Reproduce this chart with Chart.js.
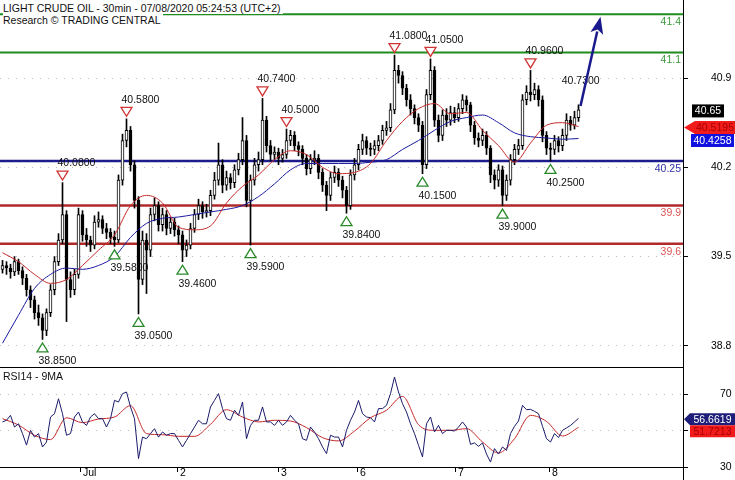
<!DOCTYPE html>
<html>
<head>
<meta charset="utf-8">
<script src="https://cdn.jsdelivr.net/npm/chart.js@4.4.0/dist/chart.umd.min.js"></script>
<style>
  body { margin: 0; background: #fff; width: 735px; height: 480px; position: relative; overflow: hidden; font-family: "Liberation Sans", Arial, sans-serif; }
  canvas { position: absolute; left: 0; }
  #price { top: 0; }
  #rsi { top: 367px; }
  .t { position: absolute; left: 3px; font-size: 10.5px; line-height: 12px; color: #111; background: #fff; white-space: nowrap; padding-right: 2px; }
</style>
</head>
<body>
<canvas id="price" width="735" height="368"></canvas>
<canvas id="rsi" width="735" height="113"></canvas>
<div class="t" style="top:2px">LIGHT CRUDE OIL - 30min - 07/08/2020 05:24:53 (UTC+2)</div>
<div class="t" style="top:14px">Research © TRADING CENTRAL</div>
<div class="t" style="top:370px;background:none">RSI14 - 9MA</div>
<script>
// one candle per hour
const dayTicks = [19.375, 43.625, 68.875, 88.625, 113.125, 136.625];
const dayLabels = [' Jul', ' 2', ' 3', ' 6', ' 7', ' 8'];
const priceTicks = [40.9, 40.2, 39.5, 38.8];
const rsiTicks = [70, 50, 30];

const opens = [
  39.40,39.43,39.41,39.38,39.46,39.39,39.33,39.24,39.16,39.06,
  39.02,38.92,39.06,39.24,39.46,39.63,39.83,39.32,39.24,39.36,
  39.83,39.67,39.63,39.59,39.77,39.79,39.72,39.69,39.65,39.63,
  40.10,40.41,40.49,40.22,39.94,39.32,39.63,39.55,39.83,39.90,
  39.75,39.83,39.72,39.77,39.71,39.67,39.55,39.59,39.72,39.83,
  39.90,39.85,39.86,39.98,40.10,40.22,40.06,40.12,40.08,40.18,
  40.26,40.41,39.94,40.10,40.22,40.26,40.57,40.37,40.30,40.32,
  40.27,40.30,40.41,40.45,40.37,40.34,40.27,40.19,40.26,40.27,
  40.16,40.06,39.98,40.12,40.16,40.10,40.02,39.90,40.14,40.22,
  40.34,40.41,40.35,40.34,40.37,40.41,40.49,40.51,40.65,40.96,
  40.92,40.82,40.73,40.66,40.59,40.53,40.22,40.77,40.96,40.57,
  40.45,40.61,40.57,40.63,40.59,40.66,40.73,40.69,40.53,40.43,
  40.41,40.45,40.35,40.14,40.10,40.18,39.98,40.10,40.26,40.34,
  40.37,40.73,40.79,40.77,40.81,40.73,40.45,40.35,40.34,40.41,
  40.37,40.45,40.57,40.53,40.59
];
const highs = [
  39.47,39.46,39.44,39.50,39.48,39.42,39.36,39.27,39.19,39.12,
  39.05,39.09,39.28,39.50,39.68,40.08,39.86,39.38,39.40,39.88,
  39.86,39.72,39.66,39.82,39.85,39.82,39.76,39.72,39.70,40.14,
  40.46,40.58,40.52,40.25,39.97,39.70,39.68,39.88,39.96,39.93,
  39.88,39.86,39.81,39.80,39.74,39.70,39.63,39.76,39.87,39.95,
  39.93,39.91,40.02,40.16,40.39,40.26,40.17,40.15,40.22,40.31,
  40.59,40.45,40.14,40.27,40.32,40.74,40.60,40.41,40.36,40.35,
  40.34,40.50,40.49,40.48,40.40,40.37,40.30,40.30,40.33,40.30,
  40.19,40.09,40.16,40.21,40.19,40.13,40.05,40.18,40.27,40.38,
  40.46,40.44,40.39,40.41,40.45,40.53,40.56,40.70,41.08,41.00,
  40.95,40.85,40.77,40.69,40.62,40.56,40.81,41.05,40.99,40.61,
  40.65,40.66,40.68,40.67,40.70,40.77,40.76,40.71,40.56,40.47,
  40.50,40.48,40.37,40.18,40.22,40.21,40.14,40.30,40.38,40.42,
  40.77,40.84,40.96,40.86,40.84,40.76,40.48,40.39,40.45,40.44,
  40.50,40.62,40.60,40.64,40.69
];
const lows = [
  39.37,39.36,39.33,39.35,39.36,39.28,39.19,39.10,39.01,38.96,
  38.85,38.88,39.03,39.20,39.43,39.60,38.99,39.18,39.20,39.33,
  39.62,39.58,39.54,39.56,39.73,39.68,39.64,39.60,39.58,39.61,
  40.06,40.36,40.17,39.88,39.05,39.28,39.21,39.50,39.78,39.70,
  39.70,39.67,39.68,39.66,39.60,39.46,39.50,39.56,39.69,39.79,
  39.80,39.81,39.82,39.95,40.06,40.00,40.02,40.03,40.04,40.14,
  40.22,39.89,39.59,40.06,40.17,40.22,40.32,40.25,40.26,40.22,
  40.24,40.27,40.37,40.33,40.29,40.22,40.14,40.15,40.22,40.11,
  40.01,39.86,39.94,40.08,40.05,39.96,39.84,39.87,40.10,40.18,
  40.30,40.30,40.29,40.30,40.33,40.38,40.45,40.48,40.62,40.86,
  40.77,40.68,40.61,40.54,40.48,40.15,40.19,40.73,40.52,40.40,
  40.41,40.52,40.53,40.55,40.56,40.62,40.64,40.48,40.38,40.36,
  40.37,40.30,40.08,40.03,40.05,39.90,39.94,40.06,40.22,40.30,
  40.34,40.69,40.72,40.73,40.68,40.40,40.30,40.25,40.30,40.32,
  40.33,40.41,40.49,40.50,40.56
];
const closes = [
  39.43,39.41,39.38,39.46,39.39,39.33,39.24,39.16,39.06,39.02,
  38.92,39.06,39.24,39.46,39.63,39.83,39.32,39.24,39.36,39.83,
  39.67,39.63,39.59,39.77,39.79,39.72,39.69,39.65,39.63,40.10,
  40.41,40.49,40.22,39.94,39.32,39.63,39.55,39.83,39.90,39.75,
  39.83,39.72,39.77,39.71,39.67,39.55,39.59,39.72,39.83,39.90,
  39.85,39.86,39.98,40.10,40.22,40.06,40.12,40.08,40.18,40.26,
  40.41,39.94,40.10,40.22,40.26,40.57,40.37,40.30,40.32,40.27,
  40.30,40.41,40.45,40.37,40.34,40.27,40.19,40.26,40.27,40.16,
  40.06,39.98,40.12,40.16,40.10,40.02,39.90,40.14,40.22,40.34,
  40.41,40.35,40.34,40.37,40.41,40.49,40.51,40.65,40.96,40.92,
  40.82,40.73,40.66,40.59,40.53,40.22,40.77,40.96,40.57,40.45,
  40.61,40.57,40.63,40.59,40.66,40.73,40.69,40.53,40.43,40.41,
  40.45,40.35,40.14,40.10,40.18,39.98,40.10,40.26,40.34,40.37,
  40.73,40.79,40.77,40.81,40.73,40.45,40.35,40.34,40.41,40.37,
  40.45,40.57,40.53,40.59,40.65
];

// moving averages, read every 4th bar
const maStep = 4;
const maFast = [39.53,39.46,39.36,39.29,39.32,39.43,39.55,39.67,39.90,39.98,39.92,39.73,39.71,39.74,39.92,40.05,40.14,40.26,40.33,40.30,40.20,40.15,40.16,40.23,40.41,40.56,40.66,40.70,40.62,40.63,40.49,40.37,40.24,40.39,40.53,40.55,40.5195];
const maSlow = [38.82,39.04,39.25,39.36,39.41,39.40,39.43,39.50,39.65,39.76,39.80,39.81,39.83,39.85,39.87,39.90,39.97,40.07,40.18,40.23,40.23,40.23,40.23,40.24,40.26,40.34,40.41,40.49,40.56,40.59,40.61,40.55,40.47,40.44,40.43,40.42,40.4258];

const rsi = [
  54.7,55.6,58.3,51.9,53.7,48.3,42.0,50.1,46.4,48.3,
  41.0,43.7,57.4,59.2,67.4,59.2,47.4,48.3,57.4,60.1,
  54.7,52.8,57.4,59.2,56.5,56.5,51.9,56.5,66.5,65.6,
  70.2,71.1,62.9,56.5,34.6,46.4,45.5,48.3,51.0,46.4,
  49.2,47.4,48.3,48.3,44.6,41.0,44.6,48.3,51.9,55.6,
  53.7,53.7,62.9,66.5,70.2,62.0,56.5,55.6,61.1,58.3,
  65.6,45.5,52.8,55.6,55.6,62.9,54.7,54.7,52.8,55.6,
  52.8,54.7,58.3,55.6,53.7,45.5,44.6,51.9,49.2,45.5,
  41.0,37.3,47.4,46.4,46.4,41.0,50.1,55.6,60.1,66.5,
  59.2,57.4,57.0,54.7,62.0,62.0,63.8,70.2,79.3,71.1,
  64.7,60.1,53.7,48.3,41.9,35.5,53.7,57.4,49.2,52.8,
  48.3,50.1,50.1,49.7,51.9,54.7,51.9,42.4,43.2,41.3,
  43.2,37.1,32.7,40.1,37.1,41.0,39.1,48.3,52.3,55.2,
  63.8,61.4,61.6,60.5,59.2,52.3,45.5,43.7,48.3,46.1,
  50.1,51.4,52.8,54.7,56.6619
];
const rsiMa = [56.5,53.0,47.4,45.0,57.0,54.3,56.3,57.4,63.6,48.3,47.7,46.8,46.8,53.4,61.4,57.4,54.7,55.6,55.2,51.6,46.1,44.3,49.7,57.0,61.1,68.7,53.2,50.1,50.1,51.0,43.7,37.7,45.5,58.3,55.0,47.0,51.7213];

const levels = [41.4, 41.1, 40.25, 39.9, 39.6];
const highIdx = [15, 31, 65, 71, 98, 107, 132];
const highVal = [40.08, 40.58, 40.74, 40.50, 41.08, 41.05, 40.96];
const lowIdx = [10, 28, 34, 45, 62, 86, 105, 125, 137];
const lowVal = [38.85, 39.58, 39.05, 39.46, 39.59, 39.84, 40.15, 39.90, 40.25];
const arrowX = [144.5, 149.5];
const arrowY = [40.68, 41.38];
const target = 40.73;

const FONT = '"Liberation Sans", Arial, sans-serif';
Chart.defaults.font.family = FONT;
Chart.defaults.font.size = 10.5;
Chart.defaults.color = '#000';

const levelColor = ['#1f8c1f', '#1f8c1f', '#1c1c8c', '#b02a2a', '#b02a2a'];
const levelText = ['#3a9a3a', '#3a9a3a', '#3333aa', '#dd5555', '#dd5555'];
const levelWidth = [2, 2, 2.5, 2.5, 2.5];

// no extra room around the axes: the plot fills its canvas
function noPad(s) {
  s.paddingTop = 0; s.paddingBottom = 0; s.paddingLeft = 0; s.paddingRight = 0;
}

function tri(ctx, cx, cy, down, color) {
  const w = 5.5, h = 4.5;
  ctx.beginPath();
  if (down) {
    ctx.moveTo(cx - w, cy - h); ctx.lineTo(cx + w, cy - h); ctx.lineTo(cx, cy + h);
  } else {
    ctx.moveTo(cx - w, cy + h); ctx.lineTo(cx + w, cy + h); ctx.lineTo(cx, cy - h);
  }
  ctx.closePath();
  ctx.fillStyle = '#fff';
  ctx.fill();
  ctx.strokeStyle = color;
  ctx.lineWidth = 1.3;
  ctx.stroke();
}

// value boxes on the right axis, pushed down so they do not overlap
function drawTags(ctx, scale, right, tags, h) {
  let prevBottom = -100;
  ctx.font = '10.5px ' + FONT;
  ctx.textAlign = 'center';
  ctx.textBaseline = 'middle';
  tags.forEach(t => {
    let yc = Math.max(scale.getPixelForValue(t.v) + 1, prevBottom + h / 2);
    prevBottom = yc + h / 2;
    const x0 = right + t.x0, x1 = right + t.x1;
    ctx.fillStyle = t.bg;
    ctx.beginPath();
    if (t.ptr) {
      ctx.moveTo(right + 1, yc);
      ctx.lineTo(x0, yc - h / 2);
    } else {
      ctx.moveTo(x0, yc - h / 2);
    }
    ctx.lineTo(x1, yc - h / 2);
    ctx.lineTo(x1, yc + h / 2);
    ctx.lineTo(x0, yc + h / 2);
    ctx.closePath();
    ctx.fill();
    ctx.fillStyle = t.fg;
    ctx.fillText(t.txt, (x0 + x1) / 2, yc + 0.5);
  });
}

const pricePlugin = {
  id: 'priceExtras',
  beforeDatasetsDraw(chart) {
    const {ctx, chartArea: a, scales: {y}} = chart;
    ctx.save();
    ctx.font = '10.5px ' + FONT;
    ctx.textAlign = 'right';
    ctx.textBaseline = 'middle';
    levels.forEach((v, k) => {
      const py = y.getPixelForValue(v);
      ctx.strokeStyle = levelColor[k];
      ctx.lineWidth = levelWidth[k];
      ctx.beginPath();
      ctx.moveTo(a.left, py);
      ctx.lineTo(a.right, py);
      ctx.stroke();
      ctx.fillStyle = levelText[k];
      ctx.fillText(String(v), a.right - 2, py + 8);
    });
    ctx.restore();
  },
  afterDatasetsDraw(chart) {
    const {ctx, chartArea: a, scales: {x, y}} = chart;
    ctx.save();
    ctx.font = '10.5px ' + FONT;
    ctx.textBaseline = 'middle';
    ctx.textAlign = 'left';
    highIdx.forEach((idx, k) => {
      const px = x.getPixelForValue(idx), py = y.getPixelForValue(highVal[k]);
      tri(ctx, px, py - 7, true, '#d03535');
      ctx.fillStyle = '#111';
      ctx.fillText(highVal[k].toFixed(4), px - 5, py - 19);
    });
    lowIdx.forEach((idx, k) => {
      const px = x.getPixelForValue(idx), py = y.getPixelForValue(lowVal[k]);
      tri(ctx, px, py + 8, false, '#2a8a2a');
      ctx.fillStyle = '#111';
      ctx.fillText(lowVal[k].toFixed(4), px - 4, py + 22);
    });
    // target text near the arrow
    ctx.fillStyle = '#111';
    ctx.fillText(target.toFixed(4), x.getPixelForValue(139.8), y.getPixelForValue(40.877));

    // arrow
    const x0 = x.getPixelForValue(arrowX[0]), y0 = y.getPixelForValue(arrowY[0]);
    const x1 = x.getPixelForValue(arrowX[1]), y1 = y.getPixelForValue(arrowY[1]);
    const ang = Math.atan2(y1 - y0, x1 - x0);
    const L = 17, W = 6.5;
    const bx = x1 - L * Math.cos(ang), by = y1 - L * Math.sin(ang);
    ctx.strokeStyle = '#1a1a8c';
    ctx.lineWidth = 2.5;
    ctx.beginPath();
    ctx.moveTo(x0, y0);
    ctx.lineTo(bx + 2 * Math.cos(ang), by + 2 * Math.sin(ang));
    ctx.stroke();
    ctx.fillStyle = '#1a1a8c';
    ctx.beginPath();
    ctx.moveTo(x1, y1);
    ctx.lineTo(bx - W * Math.sin(ang), by + W * Math.cos(ang));
    ctx.lineTo(bx + 4 * Math.cos(ang), by + 4 * Math.sin(ang));
    ctx.lineTo(bx + W * Math.sin(ang), by - W * Math.cos(ang));
    ctx.closePath();
    ctx.fill();

    // panel separator
    ctx.strokeStyle = '#000';
    ctx.lineWidth = 1;
    ctx.beginPath();
    ctx.moveTo(0, a.bottom - 0.5);
    ctx.lineTo(a.right, a.bottom - 0.5);
    ctx.stroke();
    ctx.restore();
  },
  afterDraw(chart) {
    const {ctx, chartArea: a, scales: {y}} = chart;
    ctx.save();
    drawTags(ctx, y, a.right, [
      {v: closes[closes.length - 1], txt: closes[closes.length - 1].toFixed(2), bg: '#000', fg: '#fff', x0: 9, x1: 41},
      {v: maFast[maFast.length - 1], txt: maFast[maFast.length - 1].toFixed(4), bg: '#f21b1b', fg: '#a80000', x0: 12, x1: 52, ptr: true},
      {v: maSlow[maSlow.length - 1], txt: maSlow[maSlow.length - 1].toFixed(4), bg: '#1212e0', fg: '#fff', x0: 8, x1: 51}
    ], 13);
    ctx.restore();
  }
};

const rsiPlugin = {
  id: 'rsiExtras',
  afterDraw(chart) {
    const {ctx, chartArea: a, scales: {y}} = chart;
    ctx.save();
    ctx.strokeStyle = '#000';
    ctx.lineWidth = 1;
    ctx.beginPath();
    ctx.moveTo(0, 0.5);
    ctx.lineTo(a.right, 0.5);
    ctx.moveTo(a.right + 0.5, a.bottom);
    ctx.lineTo(a.right + 0.5, chart.height);
    ctx.stroke();
    drawTags(ctx, y, a.right, [
      {v: rsi[rsi.length - 1], txt: rsi[rsi.length - 1].toFixed(4), bg: '#1e1e7a', fg: '#fff', x0: 7, x1: 52, ptr: true},
      {v: rsiMa[rsiMa.length - 1], txt: rsiMa[rsiMa.length - 1].toFixed(4), bg: '#f21b1b', fg: '#a80000', x0: 7, x1: 52}
    ], 12);
    ctx.restore();
  }
};

const xRange = {type: 'linear', min: -0.625, max: 170.125, offset: false};

new Chart(document.getElementById('price'), {
  type: 'bar',
  data: {
    datasets: [
      {
        type: 'line',
        data: maFast.map((v, k) => ({x: Math.min(k * maStep, closes.length - 1), y: v})),
        borderColor: '#c62828', borderWidth: 1, pointRadius: 0, cubicInterpolationMode: 'monotone'
      },
      {
        type: 'line',
        data: maSlow.map((v, k) => ({x: Math.min(k * maStep, closes.length - 1), y: v})),
        borderColor: '#1a1aa0', borderWidth: 1, pointRadius: 0, cubicInterpolationMode: 'monotone'
      },
      {
        data: closes.map((c, i) => ({x: i, y: [opens[i], c]})),
        backgroundColor: ctx => closes[ctx.dataIndex] >= opens[ctx.dataIndex] ? '#fff' : '#000',
        borderColor: '#000', borderWidth: 1, borderSkipped: false,
        barThickness: 3, grouped: false, minBarLength: 1
      },
      {
        data: highs.map((h, i) => ({x: i, y: [lows[i], h]})),
        backgroundColor: '#000', borderWidth: 0,
        barThickness: 1, grouped: false
      }
    ]
  },
  options: {
    responsive: false,
    animation: false,
    events: [],
    layout: {padding: 0},
    plugins: {legend: {display: false}, tooltip: {enabled: false}},
    scales: {
      x: Object.assign({display: false}, xRange),
      y: {
        position: 'right',
        min: 38.626,
        max: 41.512,
        afterBuildTicks: s => { s.ticks = priceTicks.map(v => ({value: v})); },
        afterFit: s => { s.width = 52; noPad(s); },
        ticks: {padding: 23, color: '#000', callback: v => v.toFixed(1)},
        grid: {color: '#bdbdbd', tickColor: '#000', tickLength: 5},
        border: {display: true, color: '#000', dash: [1, 7]}
      }
    }
  },
  plugins: [pricePlugin]
});

new Chart(document.getElementById('rsi'), {
  type: 'line',
  data: {
    datasets: [
      {
        data: rsi.map((v, i) => ({x: i, y: v})),
        borderColor: '#1b1b6b', borderWidth: 1, pointRadius: 0
      },
      {
        data: rsiMa.map((v, k) => ({x: Math.min(k * maStep, rsi.length - 1), y: v})),
        borderColor: '#c62828', borderWidth: 1, pointRadius: 0, cubicInterpolationMode: 'monotone'
      }
    ]
  },
  options: {
    responsive: false,
    animation: false,
    events: [],
    layout: {padding: 0},
    plugins: {legend: {display: false}, tooltip: {enabled: false}},
    scales: {
      x: Object.assign({
        afterBuildTicks: s => { s.ticks = dayTicks.map(v => ({value: v})); },
        afterFit: s => { s.height = 13; noPad(s); },
        ticks: {
          callback: v => dayLabels[dayTicks.indexOf(v)],
          align: 'start', padding: -5, maxRotation: 0, autoSkip: false, color: '#000'
        },
        grid: {drawOnChartArea: false, tickLength: 5, tickColor: '#000'},
        border: {display: true, color: '#000'}
      }, xRange),
      y: {
        position: 'right',
        min: 30,
        max: 84.8,
        afterBuildTicks: s => { s.ticks = rsiTicks.map(v => ({value: v})); },
        afterFit: s => { s.width = 52; noPad(s); },
        ticks: {padding: 32, color: '#000', callback: v => (v === 50 ? '' : String(v))},
        grid: {color: '#bdbdbd', tickColor: '#000', tickLength: 5},
        border: {display: true, color: '#000', dash: [1, 7]}
      }
    }
  },
  plugins: [rsiPlugin]
});
</script>
</body>
</html>
